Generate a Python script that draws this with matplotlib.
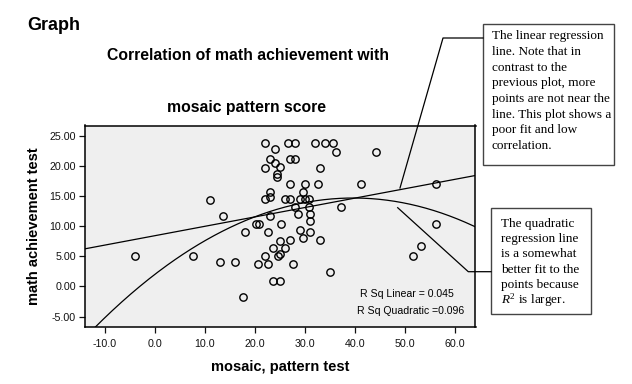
import numpy as np
import matplotlib
matplotlib.use("Agg")
import matplotlib.pyplot as plt
from matplotlib.lines import Line2D
from matplotlib.patches import Rectangle

# mosaic pattern test (x) and math achievement test (y)
mosaic = [22, 24, 26.5, 28, 32, 34, 35.5, 36.1, 44.1, 23, 27, 28, 24, 22, 25, 33,
          24.4, 24.4, 27, 30, 32.5, 41.1, 56.1, 23, 29.5, 11, 22, 23, 26, 27, 29, 30,
          30.7, 28, 30.7, 37.2, 13.5, 23, 28.6, 31, 20.2, 20.8, 25.1, 31, 56.1, 18,
          22.5, 29, 31, 25, 27, 29.5, 33, 23.5, 26, 53.1, -4, 7.5, 22, 24.5, 25, 51.5,
          13, 16, 20.5, 22.5, 27.5, 35, 23.5, 25, 17.5]
math_ach = [23.8, 22.75, 23.75, 23.75, 23.75, 23.75, 23.75, 22.35, 22.35, 21.1, 21.1,
            21.1, 20.4, 19.7, 19.8, 19.7, 18.6, 18.2, 17, 17, 17, 17, 17, 15.7, 15.7,
            14.35, 14.5, 14.8, 14.5, 14.5, 14.5, 14.5, 14.5, 13.1, 13.1, 13.1, 11.7,
            11.7, 12.1, 12.1, 10.4, 10.4, 10.4, 10.8, 10.4, 9, 9, 9.4, 9, 7.6, 7.7, 8.1,
            7.7, 6.3, 6.3, 6.7, 5.05, 5.05, 5.05, 5.05, 5.4, 5.05, 4, 4, 3.7, 3.7, 3.7,
            2.35, 0.95, 0.95, -1.7]

x_ticks = [-10, 0, 10, 20, 30, 40, 50, 60]
y_ticks = [-5, 0, 5, 10, 15, 20, 25]

note_linear = ["The linear regression", "line. Note that in", "contrast to the",
               "previous plot, more", "points are not near the", "line. This plot shows a",
               "poor fit and low", "correlation."]
note_quad = ["The quadratic", "regression line", "is a somewhat", "better fit to the",
             "points because", r"$R^2$ is larger."]

W, H = 632, 384


def px(x, y):
    return x / W, 1 - y / H


plt.rcParams['font.family'] = 'Liberation Sans'
plt.rcParams['mathtext.fontset'] = 'custom'
plt.rcParams['mathtext.it'] = 'Liberation Serif:italic'
plt.rcParams['mathtext.rm'] = 'Liberation Serif'

fig = plt.figure(figsize=(W / 100, H / 100), dpi=100)
ax = fig.add_axes([85 / W, 1 - 326.7 / H, (475.5 - 85) / W, (326.7 - 125.5) / H])
ax.set_facecolor('#efefef')

x = np.array(mosaic)
y = np.array(math_ach)
ax.plot(x, y, 'o', ms=5.3, mfc='none', mec='black', mew=1.0, zorder=3)

xlim = (-14, 64.1)
ylim = (-6.67, 26.7)
xs = np.linspace(xlim[0], xlim[1], 300)
lin = np.polyfit(x, y, 1)
quad = np.polyfit(x, y, 2)
ax.plot(xs, np.polyval(lin, xs), color='black', lw=0.9)
ax.plot(xs, np.polyval(quad, xs), color='black', lw=0.9)

ax.set_xlim(xlim)
ax.set_ylim(ylim)
ax.set_xticks(x_ticks)
ax.set_yticks(y_ticks)
ax.set_xticklabels(['%.1f' % v for v in x_ticks])
ax.set_yticklabels(['%.2f' % v for v in y_ticks])
ax.tick_params(direction='out', length=4.5, width=0.9, labelsize=7.7, colors='#111111')
ax.tick_params(axis='x', pad=4)
ax.tick_params(axis='y', pad=2)
for s in ax.spines.values():
    s.set_linewidth(1.1)

ax.set_xlabel('mosaic, pattern test', fontsize=10.5, fontweight='bold')
ax.set_ylabel('math achievement test', fontsize=10.5, fontweight='bold')
ax.xaxis.set_label_coords(0.5, -0.165)
ax.yaxis.set_label_coords(-0.113, 0.5)

fig.text(*px(27, 29.5), 'Graph', fontsize=13, fontweight='bold', va='baseline')
fig.text(*px(248, 59.5), 'Correlation of math achievement with', fontsize=11.3,
         fontweight='bold', ha='center', va='baseline')
fig.text(*px(247, 112), 'mosaic pattern score', fontsize=11.3,
         fontweight='bold', ha='center', va='baseline')

fig.text(*px(360, 294), 'R Sq Linear = 0.045', fontsize=7.6, va='center')
fig.text(*px(357, 311), 'R Sq Quadratic =0.096', fontsize=7.6, va='center')

# annotation boxes
fig.add_artist(Rectangle(px(483, 165), 131 / W, 141 / H, transform=fig.transFigure,
                         fill=False, ec='#444444', lw=1.0))
for i, t in enumerate(note_linear):
    fig.text(*px(491.5, 39.3 + i * 15.7), t, family='Liberation Serif', fontsize=9.5,
             va='baseline')
fig.add_artist(Rectangle(px(491, 314.3), 100 / W, 106 / H, transform=fig.transFigure,
                         fill=False, ec='#444444', lw=1.0))
for i, t in enumerate(note_quad):
    fig.text(*px(501, 226.7 + i * 15.3), t, family='Liberation Serif', fontsize=9.5,
             va='baseline')

for pts in ([(483, 38), (443, 38), (400, 188)],
            [(491, 271.7), (468.3, 271.7), (397.7, 207.7)]):
    fx, fy = zip(*[px(a, b) for a, b in pts])
    fig.add_artist(Line2D(fx, fy, transform=fig.transFigure, color='black', lw=0.9))

fig.savefig('out.png', dpi=100)
